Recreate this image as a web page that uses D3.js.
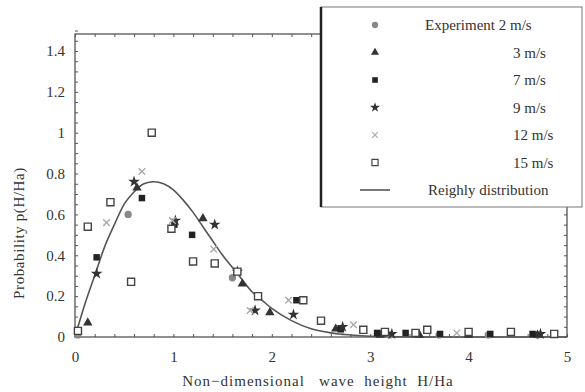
<!DOCTYPE html>
<html>
<head>
<meta charset="utf-8">
<script src="https://cdn.jsdelivr.net/npm/d3@7/dist/d3.min.js"></script>
<style>
  body { margin: 0; background: #fff; }
  svg text { font-family: "Liberation Serif", "Times New Roman", "DejaVu Serif", serif !important; fill: #333; }
</style>
</head>
<body>
<script>
// series (H/Ha, p)
const s2x = [0.03, 0.54, 1.60, 2.70, 3.20, 3.70, 4.20, 4.70];
const s2y = [0.01, 0.60, 0.29, 0.03, 0.01, 0.01, 0.01, 0.01];
const s3x = [0.13, 0.63, 1.30, 1.70, 1.98, 2.65, 3.10, 3.50, 4.00, 4.70];
const s3y = [0.07, 0.73, 0.58, 0.26, 0.12, 0.04, 0.01, 0.01, 0.01, 0.01];
const s7x = [0.22, 0.68, 1.01, 1.19, 2.25, 2.70, 3.07, 3.36, 3.71, 4.22, 4.65];
const s7y = [0.39, 0.68, 0.55, 0.50, 0.18, 0.04, 0.02, 0.02, 0.015, 0.015, 0.015];
const s9x = [0.22, 0.60, 1.02, 1.42, 1.65, 1.83, 2.22, 2.72, 3.22, 4.73];
const s9y = [0.31, 0.76, 0.57, 0.55, 0.32, 0.13, 0.11, 0.05, 0.015, 0.015];
const s12x = [0.32, 0.68, 0.99, 1.41, 1.78, 2.17, 2.83, 3.88];
const s12y = [0.56, 0.81, 0.57, 0.43, 0.13, 0.18, 0.06, 0.02];
const s15x = [0.03, 0.13, 0.36, 0.57, 0.78, 0.98, 1.20, 1.42, 1.65, 1.86, 2.32, 2.50, 2.93, 3.15, 3.46, 3.58, 4.00, 4.43, 4.87];
const s15y = [0.03, 0.54, 0.66, 0.27, 1.00, 0.53, 0.37, 0.36, 0.32, 0.20, 0.18, 0.08, 0.035, 0.025, 0.02, 0.035, 0.025, 0.025, 0.015];

// Rayleigh curve, read at intervals
const curveX = [0, 0.1, 0.2, 0.3, 0.4, 0.5, 0.6, 0.7, 0.8, 0.9, 1.0, 1.1, 1.2, 1.3, 1.4, 1.5, 1.6, 1.7, 1.8, 1.9, 2.0, 2.2, 2.4, 2.6, 2.8, 3.0, 3.5, 4.0, 5.0];
const curveY = [0, 0.16, 0.30, 0.44, 0.55, 0.65, 0.71, 0.75, 0.76, 0.75, 0.72, 0.67, 0.61, 0.54, 0.47, 0.40, 0.34, 0.28, 0.22, 0.18, 0.14, 0.08, 0.04, 0.02, 0.01, 0.004, 0, 0, 0];

const xTicks = [0, 1, 2, 3, 4, 5];
const yTicks = [0, 0.2, 0.4, 0.6, 0.8, 1, 1.2, 1.4];
const legendLabels = ["Experiment 2 m/s", "3 m/s", "7 m/s", "9 m/s", "12 m/s", "15 m/s", "Reighly distribution"];

const W = 585, H = 392;
const plot = {left: 75, right: 567, top: 34, bottom: 337};
const serif = '"Liberation Serif", "Times New Roman", "DejaVu Serif", serif';

const svg = d3.select("body").append("svg")
  .attr("width", W).attr("height", H);

const xScale = d3.scaleLinear().domain([0, 5]).range([plot.left, plot.right]);
const yScale = d3.scaleLinear().domain([0, 1.4]).range([plot.bottom, plot.bottom - 1.4 * 204.3]);

const axisCol = "#555";

// frame
svg.append("rect")
  .attr("x", plot.left).attr("y", plot.top)
  .attr("width", plot.right - plot.left).attr("height", plot.bottom - plot.top)
  .attr("fill", "none").attr("stroke", axisCol).attr("stroke-width", 1.3);

// minor + major ticks, pointing inwards
function ticks(g, axis) {
  g.call(axis);
  g.select(".domain").remove();
  g.selectAll("line").attr("stroke", axisCol);
}
const yMinor = d3.range(0, 1.5001, 0.05);
const xMinor = d3.range(0, 5.0001, 0.2);

svg.append("g").attr("transform", `translate(${plot.left},0)`)
  .call(ticks, d3.axisRight(yScale).tickValues(yMinor).tickSize(3).tickFormat(""));
svg.append("g").attr("transform", `translate(${plot.right},0)`)
  .call(ticks, d3.axisLeft(yScale).tickValues(yMinor).tickSize(3).tickFormat(""));
svg.append("g").attr("transform", `translate(0,${plot.bottom})`)
  .call(ticks, d3.axisTop(xScale).tickValues(xMinor).tickSize(3).tickFormat(""));
svg.append("g").attr("transform", `translate(0,${plot.top})`)
  .call(ticks, d3.axisBottom(xScale).tickValues(xMinor).tickSize(3).tickFormat(""));

// tick labels
const yAx = svg.append("g").attr("transform", `translate(${plot.left},0)`)
  .call(d3.axisLeft(yScale).tickValues(yTicks).tickSize(0).tickPadding(10).tickFormat(d3.format("~g")));
yAx.attr("font-family", serif).attr("font-size", 15);
yAx.select(".domain").remove();
yAx.selectAll("text").attr("fill", "#444");

const xAx = svg.append("g").attr("transform", `translate(0,${plot.bottom})`)
  .call(d3.axisBottom(xScale).tickValues(xTicks).tickSize(0).tickPadding(14).tickFormat(d3.format("d")));
xAx.attr("font-family", serif).attr("font-size", 15);
xAx.select(".domain").remove();
xAx.selectAll("text").attr("fill", "#444");

// axis titles
svg.append("text")
  .attr("x", 318).attr("y", 386)
  .attr("text-anchor", "middle")
  .attr("font-size", 15)
  .attr("letter-spacing", 1)
  .attr("xml:space", "preserve")
  .text("Non\u2212dimensional   wave  height  H/Ha");

svg.append("text")
  .attr("transform", "translate(24,233) rotate(-90)")
  .attr("text-anchor", "middle")
  .attr("font-size", 15)
  .attr("letter-spacing", 0.6)
  .text("Probability p(H/Ha)");

// curve
const line = d3.line()
  .x((d, i) => xScale(curveX[i]))
  .y(d => yScale(d))
  .curve(d3.curveMonotoneX);
svg.append("path")
  .datum(curveY)
  .attr("d", line)
  .attr("fill", "none")
  .attr("stroke", "#555")
  .attr("stroke-width", 1.6);

// series styles
const timesSym = d3.symbolTimes || d3.symbolX;
const series = [
  {xs: s2x, ys: s2y, type: d3.symbolCircle, size: 42, fill: "#888", stroke: "none"},
  {xs: s3x, ys: s3y, type: d3.symbolTriangle, size: 38, fill: "#333", stroke: "none"},
  {xs: s7x, ys: s7y, type: d3.symbolSquare, size: 42, fill: "#222", stroke: "none"},
  {xs: s9x, ys: s9y, type: d3.symbolStar, size: 42, fill: "#333", stroke: "none"},
  {xs: s12x, ys: s12y, type: timesSym, size: 30, fill: "none", stroke: "#aaa"},
  {xs: s15x, ys: s15y, type: d3.symbolSquare, size: 50, fill: "#fff", stroke: "#444"}
];

series.forEach(s => {
  svg.append("g").selectAll("path")
    .data(s.xs)
    .join("path")
    .attr("transform", (d, i) => `translate(${xScale(d)},${yScale(s.ys[i])})`)
    .attr("d", d3.symbol().type(s.type).size(s.size))
    .attr("fill", s.fill)
    .attr("stroke", s.stroke)
    .attr("stroke-width", 1.4);
});

// legend
const leg = svg.append("g");
leg.append("rect")
  .attr("x", 321).attr("y", 7).attr("width", 261).attr("height", 200)
  .attr("fill", "#fff").attr("stroke", "#777").attr("stroke-width", 1);
leg.append("line")
  .attr("x1", 321).attr("x2", 321).attr("y1", 7).attr("y2", 207)
  .attr("stroke", "#222").attr("stroke-width", 2.5);

const rowY = d3.range(legendLabels.length).map(i => 25 + i * 27.5);
series.forEach((s, i) => {
  leg.append("path")
    .attr("transform", `translate(375,${rowY[i]})`)
    .attr("d", d3.symbol().type(s.type).size(s.size * 0.75))
    .attr("fill", s.fill)
    .attr("stroke", s.stroke)
    .attr("stroke-width", 1.2);
});
leg.append("line")
  .attr("x1", 360).attr("x2", 390)
  .attr("y1", rowY[6]).attr("y2", rowY[6])
  .attr("stroke", "#555").attr("stroke-width", 1.6);

leg.selectAll("text.lab")
  .data(legendLabels)
  .join("text")
  .attr("class", "lab")
  .attr("x", (d, i) => i === 0 ? 425 : (i === 6 ? 428 : 513))
  .attr("y", (d, i) => rowY[i] + 5)
  .attr("font-size", 15)
  .text(d => d);
</script>
</body>
</html>
